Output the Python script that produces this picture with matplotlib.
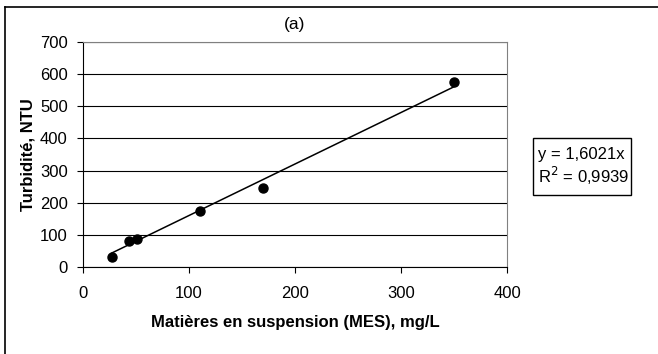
import numpy as np
import matplotlib.pyplot as plt
from matplotlib.lines import Line2D
from matplotlib.patches import Rectangle

plt.rcParams['font.family'] = ['Liberation Sans', 'DejaVu Sans']

mes = [27, 43, 51, 110, 170, 350]
turb = [30, 82, 87, 175, 245, 575]
slope = 1.6021
r2 = 0.9939
xticks = [0, 100, 200, 300, 400]
yticks = [0, 100, 200, 300, 400, 500, 600, 700]

fig = plt.figure(figsize=(6.58, 3.54), dpi=100)
W, H = 658, 354
ax = fig.add_axes([83 / W, 1 - 267 / H, (507 - 83) / W, (267 - 42) / H])

# fit line over data range
xf = np.array([min(mes), max(mes)])
ax.plot(xf, slope * xf, color='black', lw=1.1)
ax.plot(mes, turb, 'o', color='black', ms=6.5, zorder=3)

ax.set_xlim(0, 400)
ax.set_ylim(0, 700)
ax.set_xticks(xticks)
ax.set_yticks(yticks)
ax.yaxis.grid(True, color='black', lw=0.8)
ax.set_axisbelow(True)
ax.tick_params(direction='out', length=4, width=0.8, labelsize=12, pad=7)
ax.tick_params(axis='x', pad=10)
for s in ['top', 'right']:
    ax.spines[s].set_color('#808080')
for s in ['left', 'bottom']:
    ax.spines[s].set_color('black')

ax.set_xlabel('Matières en suspension (MES), mg/L', fontsize=12, fontweight='bold', labelpad=10)
ax.set_ylabel('Turbidité, NTU', fontsize=12, fontweight='bold', labelpad=3)
fig.text(295 / W, 1 - 25 / H, '(a)', fontsize=12.5, ha='center', va='center')

# equation box
fig.add_artist(Rectangle((533 / W, 1 - 195 / H), 98 / W, 57 / H, transform=fig.transFigure,
                         fc='white', ec='black', lw=1))
eq = 'y = ' + f'{slope:.4f}'.replace('.', ',') + 'x\nR$^2$ = ' + f'{r2:.4f}'.replace('.', ',')
fig.text(538 / W, 1 - 167 / H, eq, fontsize=12, ha='left', va='center', linespacing=1.2)

# outer chart border (clipped at right/bottom)
fig.add_artist(Line2D([5 / W, 5 / W], [0, 1 - 7 / H], color='black', lw=1.2))
fig.add_artist(Line2D([5 / W, 1], [1 - 7 / H, 1 - 7 / H], color='black', lw=1.2))

fig.savefig('out.png', dpi=100)
